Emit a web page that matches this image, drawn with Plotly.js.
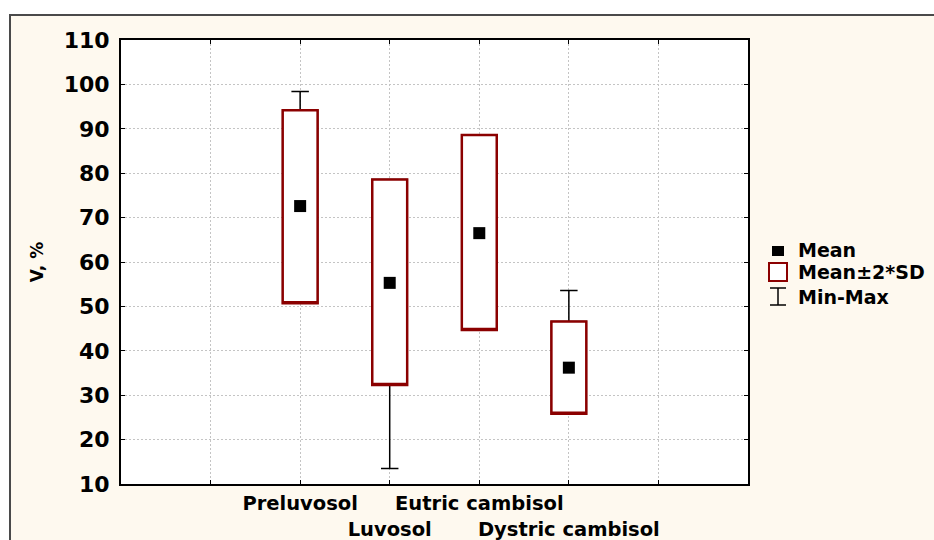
<!DOCTYPE html>
<html>
<head>
<meta charset="utf-8">
<script src="https://cdn.plot.ly/plotly-3.0.1.min.js"></script>
<style>
  html, body { margin: 0; padding: 0; background: #ffffff; width: 934px; height: 540px; overflow: hidden; }
  #chart { position: absolute; left: 9px; top: 14px; width: 923px; height: 524px;
           border-top: 2px solid #4a4a4a; border-left: 2px solid #4a4a4a; background: #fef9ef; }
</style>
</head>
<body>
<div id="chart"></div>
<script>
// ---- data ----
const categories = ["Preluvosol", "Luvosol", "Eutric cambisol", "Dystric cambisol"];
const positions  = [2, 3, 4, 5];
const tickLabels = ["Preluvosol", "<br>Luvosol", "Eutric cambisol", "<br>Dystric cambisol"];
const meanValues = [72.6, 55.3, 66.5, 36.2];
const lowerSD2   = [50.7, 32.3, 44.7, 25.8];   // Mean - 2*SD
const upperSD2   = [94.2, 78.6, 88.6, 46.6];   // Mean + 2*SD
const minValues  = [50.7, 13.5, 44.7, 25.8];
const maxValues  = [98.4, 78.6, 88.6, 53.6];
const yTicks     = [10, 20, 30, 40, 50, 60, 70, 80, 90, 100, 110];

const DARKRED = "#8b0000";
const FONT = "DejaVu Sans";

// Whiskers (Min-Max), black, drawn first
const whiskers = {
  type: "box", x: positions,
  q1: lowerSD2, median: lowerSD2, q3: upperSD2,
  lowerfence: minValues, upperfence: maxValues,
  width: 0.39, whiskerwidth: 0.5,
  line: { color: "#000000", width: 1.5 },
  fillcolor: "rgba(0,0,0,0)",
  boxpoints: false, hoverinfo: "skip", showlegend: false
};
// Mean ± 2*SD boxes, dark red outline, white fill on top of the whiskers
const boxes = {
  type: "box", x: positions,
  q1: lowerSD2, median: lowerSD2, q3: upperSD2,
  lowerfence: lowerSD2, upperfence: upperSD2,
  width: 0.39, whiskerwidth: 0.5,
  line: { color: DARKRED, width: 2.5 },
  fillcolor: "#ffffff",
  boxpoints: false, hoverinfo: "skip", showlegend: false
};
// Means
const means = {
  type: "scatter", mode: "markers", x: positions, y: meanValues,
  marker: { symbol: "square", size: 12, color: "#000000", line: { width: 0 } },
  hoverinfo: "skip", showlegend: false
};

// plot area in page px: left 121, right 748, top 40, bottom 484
const px = v => (v - 121) / 627;
const py = v => (484 - v) / 444;

const legendShapes = [
  { type: "rect", xref: "paper", yref: "paper", x0: px(772), x1: px(784), y0: py(256), y1: py(246),
    fillcolor: "#000000", line: { width: 0 } },
  { type: "rect", xref: "paper", yref: "paper", x0: px(769), x1: px(787), y0: py(281), y1: py(263),
    fillcolor: "#ffffff", line: { color: DARKRED, width: 2 } },
  { type: "line", xref: "paper", yref: "paper", x0: px(778), x1: px(778), y0: py(288), y1: py(305),
    line: { color: "#000000", width: 1.5 } },
  { type: "line", xref: "paper", yref: "paper", x0: px(770), x1: px(786), y0: py(288), y1: py(288),
    line: { color: "#000000", width: 1.5 } },
  { type: "line", xref: "paper", yref: "paper", x0: px(770), x1: px(786), y0: py(305), y1: py(305),
    line: { color: "#000000", width: 1.5 } }
];
const legendText = ["Mean", "Mean±2*SD", "Min-Max"];
const legendY = [250, 272, 297];
const legendAnn = legendText.map((t, i) => ({
  xref: "paper", yref: "paper", x: px(796), y: py(legendY[i]),
  xanchor: "left", yanchor: "middle", showarrow: false, text: "<b>" + t + "</b>",
  font: { family: FONT, size: 19, color: "#000000" }
}));

const layout = {
  width: 923, height: 524,
  margin: { l: 110, r: 186, t: 24, b: 56 },
  paper_bgcolor: "#fef9ef",
  plot_bgcolor: "#ffffff",
  showlegend: false,
  boxmode: "overlay",
  font: { family: FONT, color: "#000000" },
  xaxis: {
    range: [0, 7],
    tickmode: "array",
    tickvals: [1].concat(positions, [6]),
    ticktext: [""].concat(tickLabels.map(t => t.replace(/([^>]+)$/, "<b>$1</b>")), [""]),
    tickfont: { family: FONT, size: 19.5, color: "#000000" },
    tickangle: 0,
    ticks: "inside", ticklen: 4, tickcolor: "#000000",
    showgrid: true, gridcolor: "#c4c4c4", griddash: "2px,2px", gridwidth: 1,
    showline: true, linecolor: "#000000", linewidth: 2, mirror: "ticks",
    zeroline: false, fixedrange: true,
    ticklabelstandoff: 1
  },
  yaxis: {
    range: [10, 110],
    tickmode: "array", tickvals: yTicks, ticktext: yTicks.map(v => "<b>" + v + "</b>"),
    tickfont: { family: FONT, size: 22, color: "#000000" },
    ticks: "inside", ticklen: 4, tickcolor: "#000000",
    showgrid: true, gridcolor: "#c4c4c4", griddash: "2px,2px", gridwidth: 1,
    showline: true, linecolor: "#000000", linewidth: 2, mirror: "ticks",
    zeroline: false, fixedrange: true,
    ticklabelstandoff: 5,
    title: { text: "<b>V, %</b>", font: { family: FONT, size: 17, color: "#000000" }, standoff: 16 }
  },
  shapes: legendShapes,
  annotations: legendAnn
};

Plotly.newPlot("chart", [whiskers, boxes, means], layout, { displayModeBar: false, staticPlot: true });
</script>
</body>
</html>
